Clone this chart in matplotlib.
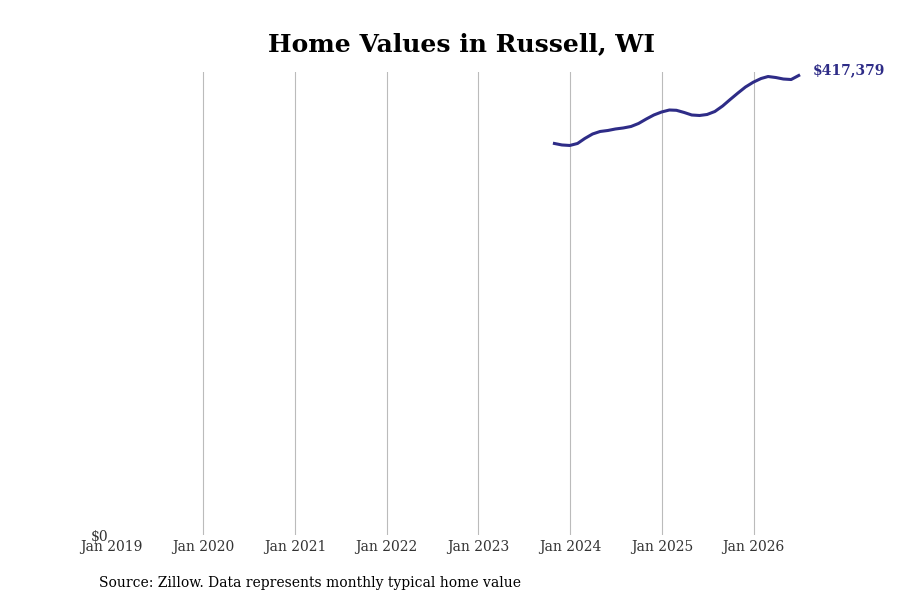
import pandas as pd
import matplotlib
matplotlib.use('Agg')
import matplotlib.pyplot as plt
import matplotlib.dates as mdates

plt.rcParams['font.family'] = ['DejaVu Serif']

# monthly typical home value, Russell, WI (Zillow)
dates = pd.date_range('2023-10-31', '2026-06-30', freq='ME')
values = [355662, 354301, 353847, 355662, 360198, 364281, 366549, 367457,
          368817, 369725, 371086, 373808, 377890, 381520, 384242, 386056,
          385784, 383788, 381520, 381066, 381973, 384695, 389685, 395583,
          401480, 406924, 411279, 414636, 416451, 415543, 414182, 413729,
          417379]
year_ticks = pd.date_range('2019-01-01', '2026-01-01', freq='YS')
line_color = '#2e2c87'

fig = plt.figure(figsize=(9, 6), dpi=100)
ax = fig.add_axes([0.124, 0.108, 0.777, 0.772])

ax.plot(dates, values, color=line_color, linewidth=2.2)

ax.set_xlim(left=year_ticks[0])
ax.set_ylim(bottom=0)
ax.set_xticks(year_ticks)
ax.xaxis.set_major_formatter(mdates.DateFormatter('%b %Y'))
ax.set_yticks([0])
ax.set_yticklabels(['$0'])
ax.tick_params(axis='both', length=0, labelsize=10, labelcolor='#333333')
ax.tick_params(axis='y', pad=2)
ax.grid(axis='x', color='#bbbbbb', linewidth=0.8)
# no grid line on the left edge
ax.get_xgridlines()[0].set_visible(False)
for s in ax.spines.values():
    s.set_visible(False)

# end-of-line value label
ax.annotate(f'${values[-1]:,}', xy=(dates[-1], values[-1]),
            xytext=(10, 4), textcoords='offset points',
            color=line_color, fontsize=10, fontweight='bold', va='center')

ax.set_title('Home Values in Russell, WI', fontsize=18, fontweight='bold', pad=15)
fig.text(0.11, 0.022, 'Source: Zillow. Data represents monthly typical home value',
         fontsize=10, color='black')

fig.savefig('out.png', dpi=100)
